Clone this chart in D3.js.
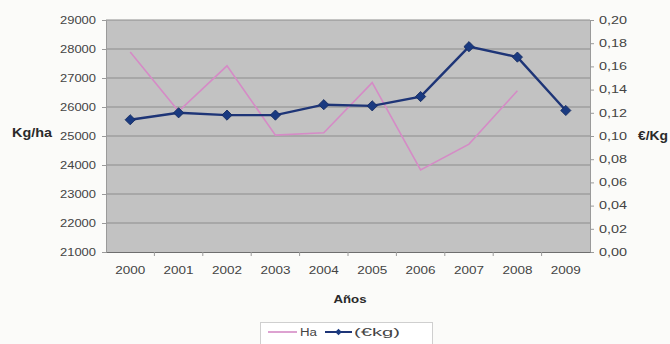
<!DOCTYPE html>
<html>
<head>
<meta charset="utf-8">
<script src="https://cdn.jsdelivr.net/npm/d3@7/dist/d3.min.js"></script>
<style>
  html, body { margin: 0; padding: 0; background: #fbfbf9; }
  svg { display: block; font-family: "Liberation Sans", Arial, sans-serif; }
</style>
</head>
<body>
<svg id="chart" width="670" height="344"></svg>
<script>
// Yields (Kg/ha) and prices (€/Kg) per year
const years = ["2000","2001","2002","2003","2004","2005","2006","2007","2008","2009"];
const haValues = [27900, 25850, 27420, 25030, 25110, 26840, 23830, 24720, 26560, null];
const priceValues = [0.114, 0.120, 0.118, 0.118, 0.127, 0.126, 0.134, 0.177, 0.168, 0.122];
const leftTicks = [21000, 22000, 23000, 24000, 25000, 26000, 27000, 28000, 29000];
const rightTicks = [0, 0.02, 0.04, 0.06, 0.08, 0.10, 0.12, 0.14, 0.16, 0.18, 0.20];
const seriesNames = ["Ha", "(€kg)"];

const svg = d3.select("#chart");
const plot = { left: 106, right: 590, top: 20, bottom: 252 };

const x = d3.scaleBand().domain(years).range([plot.left, plot.right]);
const yLeft = d3.scaleLinear().domain([21000, 29000]).range([plot.bottom, plot.top]);
const yRight = d3.scaleLinear().domain([0, 0.20]).range([plot.bottom, plot.top]);

const textColor = "#444444";

// plot background
svg.append("rect")
  .attr("x", plot.left).attr("y", plot.top)
  .attr("width", plot.right - plot.left).attr("height", plot.bottom - plot.top)
  .attr("fill", "#c2c2c2");

// horizontal gridlines
svg.append("g").selectAll("line").data(leftTicks.slice(1)).join("line")
  .attr("x1", plot.left).attr("x2", plot.right)
  .attr("y1", d => yLeft(d)).attr("y2", d => yLeft(d))
  .attr("stroke", "#8c8c8c").attr("stroke-width", 1);

// left axis
const leftAxis = svg.append("g")
  .attr("transform", `translate(${plot.left},0)`)
  .call(d3.axisLeft(yLeft).tickValues(leftTicks).tickFormat(d3.format("d")).tickSize(4).tickPadding(6));
leftAxis.select(".domain").attr("stroke", "#9a9a9a");
leftAxis.selectAll(".tick line").attr("stroke", "#9a9a9a");
leftAxis.selectAll(".tick text")
  .attr("font-size", 10).attr("fill", textColor)
  .attr("textLength", 36).attr("lengthAdjust", "spacingAndGlyphs");

// right axis
const rightAxis = svg.append("g")
  .attr("transform", `translate(${plot.right},0)`)
  .call(d3.axisRight(yRight).tickValues(rightTicks)
    .tickFormat(d => d3.format(".2f")(d).replace(".", ",")).tickSize(4).tickPadding(5));
rightAxis.select(".domain").attr("stroke", "#9a9a9a");
rightAxis.selectAll(".tick line").attr("stroke", "#9a9a9a");
rightAxis.selectAll(".tick text")
  .attr("font-size", 10).attr("fill", textColor)
  .attr("textLength", 28).attr("lengthAdjust", "spacingAndGlyphs");

// bottom axis
const bottomAxis = svg.append("g")
  .attr("transform", `translate(0,${plot.bottom})`)
  .call(d3.axisBottom(x).tickSize(0).tickPadding(15));
bottomAxis.select(".domain").attr("stroke", "#6e6e6e").attr("stroke-width", 1.2);
bottomAxis.selectAll(".tick text")
  .attr("font-size", 10).attr("fill", textColor)
  .attr("textLength", 30).attr("lengthAdjust", "spacingAndGlyphs");
// category boundary ticks
svg.append("g").selectAll("line").data(years.slice(1)).join("line")
  .attr("x1", d => x(d)).attr("x2", d => x(d))
  .attr("y1", plot.bottom).attr("y2", plot.bottom + 4)
  .attr("stroke", "#9a9a9a");

// axis titles
svg.append("text").attr("x", 12).attr("y", 137)
  .attr("font-size", 12).attr("font-weight", "bold").attr("fill", "#2a2a2a")
  .attr("textLength", 40).attr("lengthAdjust", "spacingAndGlyphs").text("Kg/ha");
svg.append("text").attr("x", 638).attr("y", 140)
  .attr("font-size", 12).attr("font-weight", "bold").attr("fill", "#2a2a2a")
  .attr("textLength", 30).attr("lengthAdjust", "spacingAndGlyphs").text("€/Kg");
svg.append("text").attr("x", 350).attr("y", 303).attr("text-anchor", "middle")
  .attr("font-size", 10).attr("font-weight", "bold").attr("fill", "#2a2a2a")
  .attr("textLength", 33).attr("lengthAdjust", "spacingAndGlyphs").text("Años");

const cx = d => x(d) + x.bandwidth() / 2;
const pink = "#d58bc6";
const blue = "#1e3577";

// Ha line (left axis)
const haData = years.map((yr, i) => ({ yr, v: haValues[i] })).filter(d => d.v != null);
svg.append("path").datum(haData)
  .attr("fill", "none").attr("stroke", pink).attr("stroke-width", 1.6)
  .attr("d", d3.line().x(d => cx(d.yr)).y(d => yLeft(d.v)));

// price line (right axis)
const priceData = years.map((yr, i) => ({ yr, v: priceValues[i] }));
svg.append("path").datum(priceData)
  .attr("fill", "none").attr("stroke", blue).attr("stroke-width", 2.4)
  .attr("d", d3.line().x(d => cx(d.yr)).y(d => yRight(d.v)));

// square markers turned 45° into diamonds
const diamond = d3.symbol().type(d3.symbolSquare).size(52);
svg.append("g").selectAll("path").data(priceData).join("path")
  .attr("transform", d => `translate(${cx(d.yr)},${yRight(d.v)}) rotate(45)`)
  .attr("d", diamond).attr("fill", "#1a3a80").attr("stroke", "#142a60").attr("stroke-width", 0.8);

// legend
const lg = svg.append("g");
lg.append("rect").attr("x", 260.5).attr("y", 322.5).attr("width", 172).attr("height", 30)
  .attr("fill", "#ffffff").attr("stroke", "#cfcfcf");
lg.append("line").attr("x1", 268).attr("x2", 297).attr("y1", 332).attr("y2", 332)
  .attr("stroke", pink).attr("stroke-width", 1.6);
lg.append("text").attr("x", 300).attr("y", 336).attr("font-size", 10).attr("fill", textColor)
  .attr("textLength", 17).attr("lengthAdjust", "spacingAndGlyphs").text(seriesNames[0]);
lg.append("line").attr("x1", 325).attr("x2", 352).attr("y1", 332).attr("y2", 332)
  .attr("stroke", blue).attr("stroke-width", 2);
lg.append("path").attr("transform", "translate(338.5,332) rotate(45)")
  .attr("d", d3.symbol().type(d3.symbolSquare).size(22)).attr("fill", "#1a3a80");
lg.append("text").attr("x", 354).attr("y", 336).attr("font-size", 10).attr("fill", textColor)
  .attr("textLength", 46).attr("lengthAdjust", "spacingAndGlyphs").text(seriesNames[1]);
</script>
</body>
</html>
